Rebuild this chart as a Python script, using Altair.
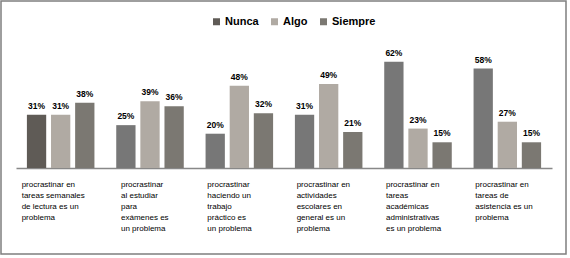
import altair as alt
import pandas as pd

categorias = [
    "procrastinar  en|tareas semanales|de lectura es un|problema",
    "procrastinar|al estudiar|para|exámenes es|un problema",
    "procrastinar|haciendo  un|trabajo|práctico  es|un problema",
    "procrastinar  en|actividades|escolares en|general es un|problema",
    "procrastinar  en|tareas|académicas|administrativas|es un problema",
    "procrastinar  en|tareas de|asistencia es un|problema",
]
series = ["Nunca", "Algo", "Siempre"]
nunca = [31, 25, 20, 31, 62, 58]
algo = [31, 39, 48, 49, 23, 27]
siempre = [38, 36, 32, 21, 15, 15]
colores = ["#5f5b56", "#b0aaa3", "#7b7872"]

rows = []
for i, c in enumerate(categorias):
    for s, vals in zip(series, [nunca, algo, siempre]):
        rows.append({"cat": c, "serie": s, "valor": vals[i], "idx": i})
df = pd.DataFrame(rows)

FONT = "Liberation Sans"

label_offset = {
    "condition": [
        {"test": "indexof(datum.value, 'semanales') >= 0", "value": -39},
        {"test": "indexof(datum.value, 'al estudiar') >= 0", "value": -29},
    ],
    "value": -32,
}

x = alt.X(
    "cat:N", sort=categorias,
    scale=alt.Scale(paddingInner=0.244, paddingOuter=0.122),
    axis=alt.Axis(title=None, labelExpr="split(datum.label, '|')", labelAlign="left",
                  labelBaseline="top", labelOffset=label_offset, labelPadding=12,
                  labelLineHeight=11, labelFontSize=8, labelFont=FONT, labelColor="black",
                  ticks=False, domainColor="#888888", domainWidth=1.5, labelAngle=0,
                  labelLimit=300, labelOverlap=False, grid=False),
)
xo = alt.XOffset("serie:N", sort=series, scale=alt.Scale(paddingInner=0.2))
y = alt.Y("valor:Q", scale=alt.Scale(domain=[0, 70]), axis=None)

base = alt.Chart(df)

bars = base.mark_bar().encode(
    x=x, xOffset=xo, y=y,
    color=alt.condition(
        "datum.serie == 'Nunca' && datum.idx > 0",
        alt.value("#777777"),
        alt.Color("serie:N", sort=series,
                  scale=alt.Scale(domain=series, range=colores),
                  legend=alt.Legend(orient="none", legendX=195, legendY=-32,
                                    direction="horizontal", title=None,
                                    symbolType="square", symbolSize=49,
                                    symbolStrokeWidth=0, labelFont=FONT,
                                    labelFontSize=11, labelFontWeight="bold",
                                    labelColor="black", columnPadding=10,
                                    labelOffset=3)),
    ),
)

labels = base.transform_calculate(lab="datum.valor + '%'").mark_text(
    dy=-4, baseline="bottom", fontSize=8.5, fontWeight="bold", font=FONT, color="black"
).encode(x=x, xOffset=xo, y=y, text="lab:N")

border = alt.Chart(pd.DataFrame({"a": [0]})).mark_rect(
    fillOpacity=0, stroke="#7f7f7f", strokeWidth=1.5
).encode(x=alt.value(-15), x2=alt.value(550), y=alt.value(-47), y2=alt.value(206))

chart = alt.layer(bars, labels, border).properties(
    width=536, height=120,
    autosize=alt.AutoSizeParams(type="none"),
    padding={"left": 16, "top": 48, "right": 18, "bottom": 90},
    background="white",
).configure_view(stroke=None)

chart.save("out.html", embed_options={"renderer": "svg", "actions": False})
